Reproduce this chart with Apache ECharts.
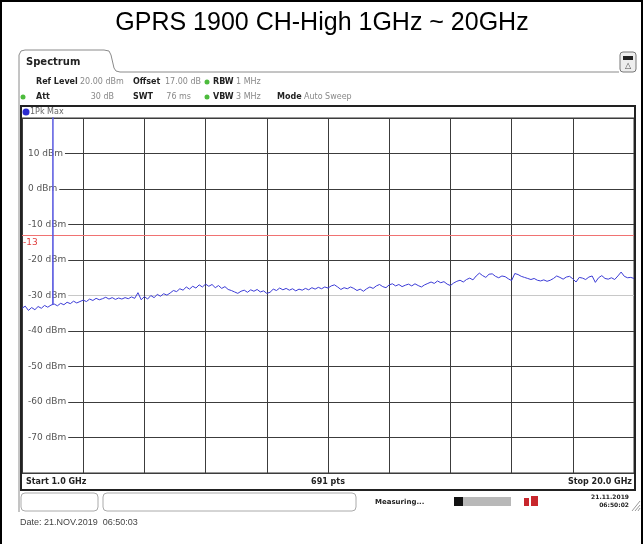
<!DOCTYPE html>
<html>
<head>
<meta charset="utf-8">
<script src="https://cdn.jsdelivr.net/npm/echarts@6/dist/echarts.min.js"></script>
<style>
  html, body { margin: 0; padding: 0; background: #fff; }
  #chart { width: 644px; height: 544px; }
</style>
</head>
<body>
<div id="chart"></div>
<script>
    'use strict'

    /* Sweep data (GHz, dBm) */
    var startFreq = 1.0;
    var stopFreq = 20.0;
    var sweepStep = 0.1;
    var limitLevel = -13;
    var yTicks = [20, 10, 0, -10, -20, -30, -40, -50, -60, -70, -80];

    var traceLevels = [
        -33.6, -33.0, -34.2, -33.4, -34.0, -33.1, -33.6, -32.8, -33.3, -32.7,
        -32.4, -32.9, -32.2, -32.6, -31.9, -32.3, -31.6, -32.1, -31.7, -31.3,
        -31.7, -31.0, -31.4, -30.8, -31.2, -30.9, -30.5, -31.0, -30.6, -31.1,
        -30.7, -31.0, -30.6, -30.9, -30.4, -30.8, -29.2, -31.2, -30.3, -31.0,
        -30.0, -30.6, -29.7, -30.2, -29.5, -29.9, -29.3, -28.6, -28.9, -28.1,
        -28.5, -27.6, -28.2, -27.4, -27.9, -27.0, -27.6, -26.8, -27.4, -26.9,
        -27.8, -27.2, -28.0, -27.5, -28.3, -28.6, -29.0, -29.4, -28.8, -28.5,
        -29.1, -28.4, -28.8, -28.3, -29.0, -28.7, -29.4, -29.1, -28.2, -28.6,
        -27.9, -28.4, -28.0, -28.5, -28.1, -28.7, -28.2, -28.5, -28.0, -28.4,
        -27.8, -28.2, -27.7, -28.1, -27.6, -27.9, -27.3, -27.0, -27.6, -28.3,
        -27.8, -28.1, -27.6, -28.0, -28.6, -28.2, -28.8, -28.1, -27.6, -28.0,
        -27.3, -26.9, -27.5, -27.8, -27.0, -26.7, -27.3, -26.9, -27.5, -27.1,
        -26.8, -27.3, -26.7, -27.2, -27.6, -27.0, -26.6, -26.2, -26.6, -25.9,
        -26.4, -26.1, -26.8, -27.2, -26.5, -26.0, -25.7, -26.2, -25.5, -25.1,
        -25.6, -24.5, -23.7, -24.4, -24.9, -24.0, -23.9, -24.6, -25.0, -24.5,
        -24.7, -25.3, -25.8, -23.8, -24.1, -24.6, -24.9, -25.2, -25.5, -25.2,
        -25.7, -25.9, -25.6, -26.0, -25.7, -25.2, -24.5, -24.9, -25.4, -24.8,
        -24.6, -25.3, -26.2, -24.9, -25.1, -25.5, -24.8, -24.5, -26.3, -25.0,
        -24.4, -25.2, -25.4, -25.0, -25.5, -24.5, -23.4, -24.6, -25.0, -24.9,
        -25.2
    ];

    /* carrier spike, runs off the top of the screen */
    var carrierFreqs = [1.95, 1.96, 1.97];
    var carrierLevels = [-32.6, 35, -32.5];

    var traceData = traceLevels.map(function (v, i) {
        return [+(i * sweepStep).toFixed(2), v];
    });
    var carrierData = carrierFreqs.map(function (f, i) {
        return [+(f - startFreq).toFixed(3), carrierLevels[i]];
    });

    var uiFont = '"DejaVu Sans", Verdana, sans-serif';
    var traceColor = '#3b3bd6';
    var gridColor = '#3c3c3c';

    // splitLine colours, bottom tick first (-30 line is faint in the shot)
    var hLineColors = yTicks.slice().reverse().map(function (t) {
        return t === -30 ? '#c8c8c8' : gridColor;
    });

    function txt(x, y, text, opt) {
        opt = opt || {};
        return {
            type: 'text', x: x, y: y, silent: true, z: 10,
            style: {
                text: text,
                fill: opt.fill || '#222',
                font: (opt.weight || 'normal') + ' ' + (opt.size || 8) + 'px ' + (opt.family || uiFont),
                textAlign: opt.align || 'left',
                textVerticalAlign: 'middle'
            }
        };
    }
    function dot(x, y, r, color) {
        return { type: 'circle', silent: true, z: 10, shape: { cx: x, cy: y, r: r }, style: { fill: color } };
    }
    function box(x, y, w, h, r, fill, stroke, lw) {
        return {
            type: 'rect', silent: true, z: 10,
            shape: { x: x, y: y, width: w, height: h, r: r || 0 },
            style: { fill: fill || 'none', stroke: stroke || null, lineWidth: lw || 1 }
        };
    }
    function pline(points, stroke, lw) {
        return { type: 'polyline', silent: true, z: 10, shape: { points: points }, style: { fill: 'none', stroke: stroke, lineWidth: lw || 1 } };
    }

    var chart = echarts.init(document.getElementById('chart'));

    var option = {
        animation: false,
        grid: {
            left: 22,
            right: 10,
            top: 118,
            bottom: 71,
            show: true,
            borderColor: '#333',
            borderWidth: 1,
            backgroundColor: 'transparent'
        },
        xAxis: {
            type: 'value',
            min: 0,
            max: stopFreq - startFreq,
            interval: 1.9,
            axisLine: { show: false },
            axisTick: { show: false },
            axisLabel: { show: false },
            splitLine: { show: true, lineStyle: { color: gridColor, width: 1 } }
        },
        yAxis: {
            type: 'value',
            min: yTicks[yTicks.length - 1],
            max: yTicks[0],
            interval: 10,
            axisLine: { show: false },
            axisTick: { show: false },
            axisLabel: {
                inside: true,
                margin: 1,
                fontFamily: uiFont,
                fontSize: 9,
                color: '#555',
                backgroundColor: '#fff',
                padding: [0, 2, 0, 5],
                formatter: function (v) {
                    if (v === yTicks[0] || v === yTicks[yTicks.length - 1]) return '';
                    return v + ' dBm';
                }
            },
            splitLine: { show: true, lineStyle: { color: hLineColors, width: 1 } }
        },
        series: [
            {
                name: '1Pk Max',
                type: 'line',
                data: traceData,
                showSymbol: false,
                symbol: 'none',
                lineStyle: { color: traceColor, width: 1 },
                zlevel: 1,
                z: 3,
                markLine: {
                    silent: true,
                    symbol: 'none',
                    lineStyle: { color: '#f07272', width: 1, type: 'solid' },
                    label: {
                        position: 'insideStartBottom',
                        formatter: String(limitLevel),
                        color: '#e03c3c',
                        fontFamily: uiFont,
                        fontSize: 9,
                        distance: [1, 3]
                    },
                    data: [{ yAxis: limitLevel }]
                }
            },
            {
                name: 'carrier',
                type: 'line',
                data: carrierData,
                showSymbol: false,
                symbol: 'none',
                lineStyle: { color: '#5a5ae0', width: 1 },
                zlevel: 1,
                z: 3
            }
        ],
        graphic: [
            // page frame + title
            box(1, 1, 641, 580, 0, 'none', '#000', 2),
            txt(322, 23, 'GPRS 1900 CH-High 1GHz ~ 20GHz', { size: 25, family: '"Liberation Sans", Arial, sans-serif', align: 'center', fill: '#000' }),

            // tab
            pline([[19, 512], [19, 55], [21, 51], [25, 50], [104, 50], [109, 51], [111, 55], [114, 68], [116, 71], [120, 72], [619, 72]], '#8a8a8a', 1),
            txt(26, 62, 'Spectrum', { weight: 'bold', size: 10 }),
            box(620, 52, 16, 20, 3, '#eee', '#777', 1),
            box(623, 56, 10, 4, 0, '#222'),
            txt(628, 66, '△', { size: 8, align: 'center', fill: '#444' }),

            // settings
            txt(36, 82, 'Ref Level', { weight: 'bold' }),
            txt(80, 82, '20.00 dBm', { fill: '#888' }),
            txt(133, 82, 'Offset', { weight: 'bold' }),
            txt(201, 82, '17.00 dB', { fill: '#888', align: 'right' }),
            dot(207, 82, 2.5, '#4cbb3c'),
            txt(213, 82, 'RBW', { weight: 'bold' }),
            txt(236, 82, '1 MHz', { fill: '#888' }),
            dot(23, 97, 2.5, '#4cbb3c'),
            txt(36, 97, 'Att', { weight: 'bold' }),
            txt(114, 97, '30 dB', { fill: '#888', align: 'right' }),
            txt(133, 97, 'SWT', { weight: 'bold' }),
            txt(191, 97, '76 ms', { fill: '#888', align: 'right' }),
            dot(207, 97, 2.5, '#4cbb3c'),
            txt(213, 97, 'VBW', { weight: 'bold' }),
            txt(236, 97, '3 MHz', { fill: '#888' }),
            txt(277, 97, 'Mode', { weight: 'bold' }),
            txt(304, 97, 'Auto Sweep', { fill: '#888' }),

            // trace window
            box(21, 106, 614, 384, 0, 'none', '#222', 2),
            dot(26, 112, 3.5, '#2a2ad0'),
            txt(30, 112, '1Pk Max', { fill: '#666' }),
            txt(26, 482, 'Start 1.0 GHz', { weight: 'bold' }),
            txt(328, 482, '691 pts', { weight: 'bold', align: 'center' }),
            txt(632, 482, 'Stop 20.0 GHz', { weight: 'bold', align: 'right' }),

            // status bar
            box(21, 493, 77, 18, 4, '#fff', '#aaa', 1),
            box(103, 493, 253, 18, 4, '#fff', '#aaa', 1),
            txt(375, 502, 'Measuring...', { weight: 'bold', size: 7 }),
            box(454, 497, 9, 9, 0, '#111'),
            box(463, 497, 48, 9, 0, '#b8b8b8'),
            box(524, 498, 5, 8, 0, '#c8262c'),
            box(531, 496, 7, 10, 0, '#c8262c'),
            txt(629, 497, '21.11.2019', { weight: 'bold', size: 6, align: 'right' }),
            txt(629, 505, '06:50:02', { weight: 'bold', size: 6, align: 'right' }),
            pline([[632, 511], [640, 501]], '#999', 1),
            pline([[635, 511], [640, 505]], '#999', 1),
            pline([[638, 511], [640, 508]], '#999', 1),

            // footer
            txt(20, 523, 'Date: 21.NOV.2019  06:50:03', { size: 9, family: '"Liberation Sans", Arial, sans-serif', fill: '#444' })
        ]
    };

    chart.setOption(option);
</script>
</body>
</html>
